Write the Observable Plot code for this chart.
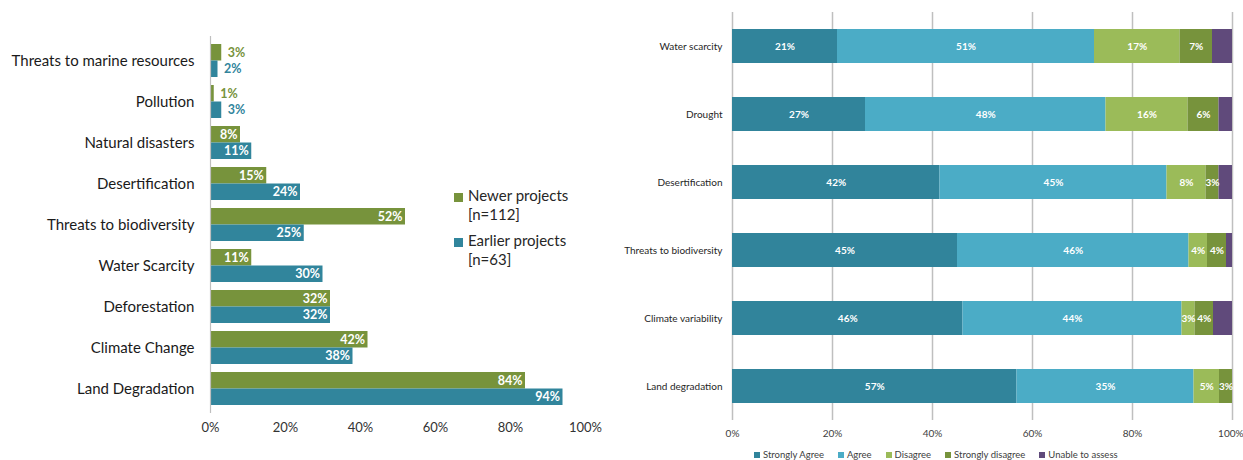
<!DOCTYPE html>
<html><head><meta charset="utf-8">
<script src="https://cdn.jsdelivr.net/npm/d3@7"></script>
<script src="https://cdn.jsdelivr.net/npm/@observablehq/plot@0.6"></script>
<style>
body{margin:0;background:#fff;font-family:Lato,"Noto Sans",sans-serif;}
#wrap{position:relative;width:1243px;height:460px;overflow:hidden;}
#left{position:absolute;left:0;top:0;}
#right{position:absolute;left:620px;top:0;}
.lleg{position:absolute;left:454px;font-size:15px;color:#262626;line-height:19px;}
.lleg .sq{position:absolute;left:0;top:5px;width:9px;height:9px;}
.lleg .tx{position:absolute;left:14px;top:-2px;white-space:nowrap;}
#rleg{position:absolute;top:448px;left:754px;display:flex;font-size:9.5px;color:#404040;line-height:13px;white-space:nowrap;}
#rleg .it{display:flex;align-items:center;margin-right:14px;}
#rleg .sq{width:6px;height:6px;margin-right:3px;}
</style></head>
<body><div id="wrap"><div id="left"></div><div id="right"></div><div id="lleg"></div><div id="rleg"></div></div>
<script>
// ---- Left chart data ----
const leftCategories = ["Threats to marine resources","Pollution","Natural disasters","Desertification","Threats to biodiversity","Water Scarcity","Deforestation","Climate Change","Land Degradation"];
const newerValues = [3,1,8,15,52,11,32,42,84];
const earlierValues = [2,3,11,24,25,30,32,38,94];
const leftSeries = ["Newer projects","Earlier projects"];
const leftSeriesN = ["[n=112]","[n=63]"];
const leftColors = ["#77933C","#31859C"];
const leftTicks = [0,20,40,60,80,100];

// ---- Right chart data ----
const rightCategories = ["Water scarcity","Drought","Desertification","Threats to biodiversity","Climate variability","Land degradation"];
const responses = ["Strongly Agree","Agree","Disagree","Strongly disagree","Unable to assess"];
const stronglyAgree    = [21.0, 26.6, 41.5, 45.0, 46.1, 56.9];
const agree            = [51.4, 48.1, 45.4, 46.3, 43.8, 35.4];
const disagree         = [17.1, 16.4,  7.8,  3.7,  2.6,  5.1];
const stronglyDisagree = [ 6.5,  6.2,  2.6,  3.8,  3.7,  2.6];
const unableToAssess   = [ 4.0,  2.7,  2.7,  1.2,  3.8,  0.0];
const responseColors = ["#31849B","#4BACC6","#9BBB59","#77933C","#604A7B"];
const rightTicks = [0,20,40,60,80,100];

const pct = d => d + "%";

// Left table
const newer = leftCategories.map((c,i)=>({category:c, value:newerValues[i]}));
const earlier = leftCategories.map((c,i)=>({category:c, value:earlierValues[i]}));
const half = 16.5;
const lblStyle = {fontSize:12.5, fontWeight:"bold", fontFamily:"Lato"};

const left = Plot.plot({
  width:620, height:445,
  marginLeft:210, marginRight:35, marginTop:36, marginBottom:32,
  style:{fontFamily:"Lato", color:"#262626", background:"white"},
  x:{domain:[0,100], label:null},
  y:{domain:leftCategories, padding:0.195, label:null},
  marks:[
    Plot.barX(newer, {x:"value", y:"category", fill:leftColors[0], insetBottom:half}),
    Plot.barX(earlier, {x:"value", y:"category", fill:leftColors[1], insetTop:half}),
    Plot.ruleX([0], {stroke:"#bfbfbf", strokeWidth:1.2}),
    Plot.text(newer.filter(d=>d.value>=5), {x:"value", y:"category", text:d=>pct(d.value), dy:-8.25, dx:-3, textAnchor:"end", fill:"white", ...lblStyle}),
    Plot.text(earlier.filter(d=>d.value>=5), {x:"value", y:"category", text:d=>pct(d.value), dy:8.25, dx:-3, textAnchor:"end", fill:"white", ...lblStyle}),
    Plot.text(newer.filter(d=>d.value<5), {x:"value", y:"category", text:d=>pct(d.value), dy:-8.25, dx:6, textAnchor:"start", fill:leftColors[0], ...lblStyle}),
    Plot.text(earlier.filter(d=>d.value<5), {x:"value", y:"category", text:d=>pct(d.value), dy:8.25, dx:6, textAnchor:"start", fill:leftColors[1], ...lblStyle}),
    Plot.axisY({tickSize:0, tickPadding:16, fontSize:15, fill:"#1a1a1a"}),
    Plot.axisX({ticks:leftTicks, tickFormat:pct, tickSize:0, tickPadding:9, fontSize:13, fill:"#333"})
  ]
});
document.getElementById("left").appendChild(left);

// Left legend (HTML)
const lleg = document.getElementById("lleg");
const legTops = [188, 233];
leftSeries.forEach((s,i)=>{
  const d = document.createElement("div");
  d.className="lleg"; d.style.top = legTops[i]+"px";
  d.innerHTML = `<div class="sq" style="background:${leftColors[i]}"></div><div class="tx">${s}<br>${leftSeriesN[i]}</div>`;
  lleg.appendChild(d);
});

// Right table
const rightSeriesValues = [stronglyAgree, agree, disagree, stronglyDisagree, unableToAssess];
const rightData = [];
rightCategories.forEach((c,i)=>{
  responses.forEach((r,j)=>{
    rightData.push({category:c, response:r, value:rightSeriesValues[j][i]});
  });
});
const labelled = d => d.response !== "Unable to assess" && d.value > 0;
const lastTick = rightTicks[rightTicks.length-1];

const right = Plot.plot({
  width:623, height:442,
  marginLeft:112, marginRight:11, marginTop:12, marginBottom:22,
  style:{fontFamily:"Lato", color:"#262626", background:"white"},
  x:{domain:[0,100], label:null},
  y:{domain:rightCategories, paddingInner:0.5, paddingOuter:0.25, label:null},
  color:{domain:responses, range:responseColors},
  marks:[
    Plot.gridX(rightTicks, {stroke:"#bfbfbf", strokeOpacity:1, strokeWidth:1.5}),
    Plot.barX(rightData, Plot.stackX({x:"value", y:"category", fill:"response", order:null})),
    Plot.text(rightData, Plot.stackX({x:"value", y:"category", z:"response", order:null,
      text:d => labelled(d) ? pct(Math.round(d.value)) : "", fill:"white", fontSize:10, fontWeight:"bold"})),
    Plot.axisY({tickSize:0, tickPadding:10, fontSize:10, fill:"#262626"}),
    Plot.axisX({ticks:rightTicks.slice(0,-1), tickFormat:pct, tickSize:0, tickPadding:9, fontSize:10, fill:"#404040"}),
    Plot.axisX({ticks:[lastTick], tickFormat:pct, tickSize:0, tickPadding:9, fontSize:10, fill:"#404040", textAnchor:"end", dx:11})
  ]
});
document.getElementById("right").appendChild(right);

// Right legend (HTML)
const rleg = document.getElementById("rleg");
responses.forEach((r,i)=>{
  const d = document.createElement("div");
  d.className="it";
  d.innerHTML = `<div class="sq" style="background:${responseColors[i]}"></div><span>${r}</span>`;
  rleg.appendChild(d);
});
</script>
</body></html>
